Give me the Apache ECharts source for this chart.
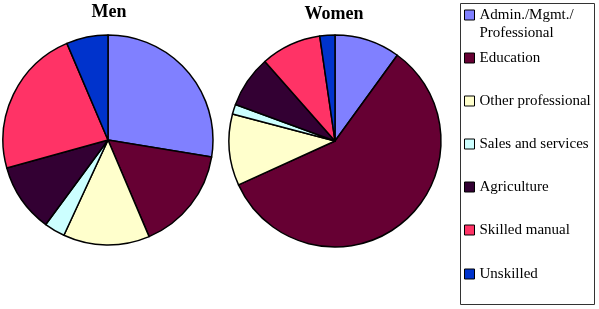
<!DOCTYPE html>
<html>
<head>
<meta charset="utf-8">
<script src="https://cdn.jsdelivr.net/npm/echarts@6/dist/echarts.min.js"></script>
<style>html,body{margin:0;padding:0;background:#fff;}#c{width:599px;height:309px;}</style>
</head>
<body>
<div id="c"></div>
<script>
const categories = ['Admin./Mgmt./Professional', 'Education', 'Other professional', 'Sales and services', 'Agriculture', 'Skilled manual', 'Unskilled'];
const legendLabels = ['Admin./Mgmt./\nProfessional', 'Education', 'Other professional', 'Sales and services', 'Agriculture', 'Skilled manual', 'Unskilled'];
const menValues = [27.6, 16.0, 13.3, 3.2, 10.6, 22.9, 6.4];
const womenValues = [10.0, 58.2, 10.9, 1.5, 7.9, 9.2, 2.3];
const titles = ['Men', 'Women'];
const colors = ['#8080FF', '#660033', '#FFFFCC', '#CCFFFF', '#330033', '#FF3366', '#0033CC'];

const legendCenters = [15, 58, 101, 144, 187, 230, 274];

const chart = echarts.init(document.getElementById('c'), null, {renderer: 'canvas'});

const legends = categories.map((name, i) => {
  const twoLine = legendLabels[i].indexOf('\n') >= 0;
  return {
    data: [name],
    orient: 'vertical',
    left: 464,
    top: twoLine ? legendCenters[i] - 27 : legendCenters[i] - 9,
    padding: 0,
    itemWidth: 10,
    itemHeight: 10,
    itemGap: 0,
    icon: 'rect',
    selectedMode: false,
    itemStyle: {borderColor: '#000', borderWidth: 1},
    formatter: () => (twoLine ? '\n' : '') + legendLabels[i],
    textStyle: {
      fontFamily: 'Liberation Serif',
      fontSize: 15,
      color: '#000',
      lineHeight: 18
    }
  };
});

const pieSeries = (vals, center, r) => ({
  type: 'pie',
  center: center,
  radius: r,
  startAngle: 90,
  clockwise: true,
  silent: true,
  label: {show: false},
  labelLine: {show: false},
  itemStyle: {borderColor: '#000', borderWidth: 1.5},
  data: categories.map((n, i) => ({name: n, value: vals[i]}))
});

chart.setOption({
  animation: false,
  color: colors,
  backgroundColor: '#fff',
  legend: legends,
  graphic: [
    {type: 'rect', z: -1, shape: {x: 460.5, y: 3.5, width: 134, height: 301}, style: {fill: '#fff', stroke: '#333', lineWidth: 1}},
    {type: 'text', style: {text: titles[0], x: 109, y: 12, textAlign: 'center', textVerticalAlign: 'middle', font: 'bold 18px "Liberation Serif"', fill: '#000'}},
    {type: 'text', style: {text: titles[1], x: 334, y: 14, textAlign: 'center', textVerticalAlign: 'middle', font: 'bold 18px "Liberation Serif"', fill: '#000'}}
  ],
  series: [
    pieSeries(menValues, [108, 140], 105),
    pieSeries(womenValues, [335, 141], 106)
  ]
});
</script>
</body>
</html>
